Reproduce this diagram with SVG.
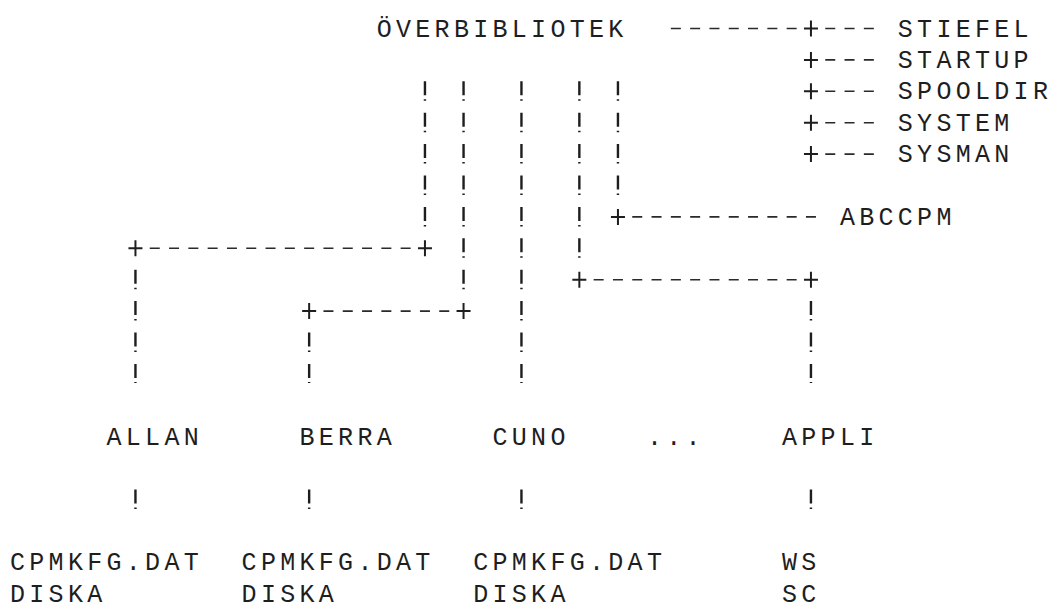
<svg xmlns="http://www.w3.org/2000/svg" width="1054" height="609" viewBox="0 0 1054 609">
<style>
  text { font-family: "Liberation Mono", "DejaVu Sans Mono", monospace; font-size: 25px; letter-spacing: 4.3px; fill: #1e1e1e; }
  .bang { stroke: #1e1e1e; stroke-width: 2.4; fill: none; stroke-dasharray: 14 4 1.5 11.9; }
  .dash { stroke: #2a2a2a; stroke-width: 1.6; fill: none; stroke-dasharray: 10 9.3; }
  .plus { stroke: #1e1e1e; stroke-width: 2; fill: none; }
</style>
<rect width="1054" height="609" fill="#ffffff"/>

<g id="connectors">
  <!-- vertical "!" runs -->
  <line class="bang" x1="424.95" y1="81.3" x2="424.95" y2="226.4"/>
  <line class="bang" x1="463.55" y1="81.3" x2="463.55" y2="289.2"/>
  <line class="bang" x1="521.45" y1="81.3" x2="521.45" y2="383.0"/>
  <line class="bang" x1="579.35" y1="81.3" x2="579.35" y2="257.8"/>
  <line class="bang" x1="617.95" y1="81.3" x2="617.95" y2="195.0"/>
  <line class="bang" x1="135.45" y1="269.7" x2="135.45" y2="383.0"/>
  <line class="bang" x1="309.15" y1="332.5" x2="309.15" y2="383.0"/>
  <line class="bang" x1="810.95" y1="301.1" x2="810.95" y2="383.0"/>
  <line class="bang" x1="135.45" y1="489.5" x2="135.45" y2="509"/>
  <line class="bang" x1="309.15" y1="489.5" x2="309.15" y2="509"/>
  <line class="bang" x1="521.45" y1="489.5" x2="521.45" y2="509"/>
  <line class="bang" x1="810.95" y1="489.5" x2="810.95" y2="509"/>
  <!-- horizontal "-" runs -->
  <line class="dash" x1="670.85" y1="28.5" x2="805.95" y2="28.5"/>
  <line class="dash" x1="825.25" y1="28.5" x2="873.85" y2="28.5"/>
  <line class="dash" x1="825.25" y1="59.9" x2="873.85" y2="59.9"/>
  <line class="dash" x1="825.25" y1="91.3" x2="873.85" y2="91.3"/>
  <line class="dash" x1="825.25" y1="122.7" x2="873.85" y2="122.7"/>
  <line class="dash" x1="825.25" y1="154.1" x2="873.85" y2="154.1"/>
  <line class="dash" x1="632.25" y1="216.9" x2="815.95" y2="216.9"/>
  <line class="dash" x1="149.75" y1="248.3" x2="410.65" y2="248.3"/>
  <line class="dash" x1="593.65" y1="279.7" x2="796.65" y2="279.7"/>
  <line class="dash" x1="323.45" y1="311.1" x2="449.25" y2="311.1"/>
  <!-- "+" junctions -->
  <path class="plus" d="M803.95 28.5h14M810.95 20.5v16
                        M803.95 59.9h14M810.95 51.9v16
                        M803.95 91.3h14M810.95 83.3v16
                        M803.95 122.7h14M810.95 114.7v16
                        M803.95 154.1h14M810.95 146.1v16
                        M610.95 216.9h14M617.95 208.9v16
                        M128.45 248.3h14M135.45 240.3v16
                        M417.95 248.3h14M424.95 240.3v16
                        M572.35 279.7h14M579.35 271.7v16
                        M803.95 279.7h14M810.95 271.7v16
                        M302.15 311.1h14M309.15 303.1v16
                        M456.55 311.1h14M463.55 303.1v16"/>
</g>

<g id="node-overbibliotek"><text x="376.7" y="36.5">ÖVERBIBLIOTEK</text></g>
<g id="node-stiefel"><text x="897.8" y="36.5">STIEFEL</text></g>
<g id="node-startup"><text x="897.8" y="67.9">STARTUP</text></g>
<g id="node-spooldir"><text x="897.8" y="99.3">SPOOLDIR</text></g>
<g id="node-system"><text x="897.8" y="130.7">SYSTEM</text></g>
<g id="node-sysman"><text x="897.8" y="162.1">SYSMAN</text></g>
<g id="node-abccpm"><text x="839.9" y="224.9">ABCCPM</text></g>

<g id="node-allan"><text x="106.5" y="444.7">ALLAN</text></g>
<g id="node-berra"><text x="299.5" y="444.7">BERRA</text></g>
<g id="node-cuno"><text x="492.5" y="444.7">CUNO</text></g>
<g id="node-more"><text x="646.9" y="444.7">...</text></g>
<g id="node-appli"><text x="782" y="444.7">APPLI</text></g>

<g id="node-allan-files"><text x="10" y="570.3">CPMKFG.DAT</text><text x="10" y="601.7">DISKA</text></g>
<g id="node-berra-files"><text x="241.6" y="570.3">CPMKFG.DAT</text><text x="241.6" y="601.7">DISKA</text></g>
<g id="node-cuno-files"><text x="473.2" y="570.3">CPMKFG.DAT</text><text x="473.2" y="601.7">DISKA</text></g>
<g id="node-appli-files"><text x="782" y="570.3">WS</text><text x="782" y="601.7">SC</text></g>
</svg>
